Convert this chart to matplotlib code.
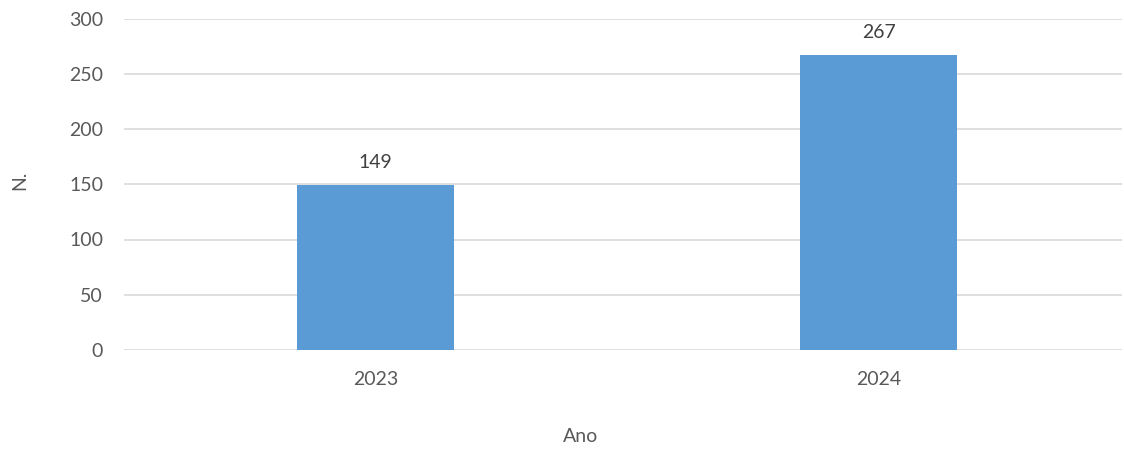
import matplotlib
matplotlib.use("Agg")
import matplotlib.pyplot as plt

# dados
anos = ["2023", "2024"]
valores = [149, 267]
y_ticks = [0, 50, 100, 150, 200, 250, 300]

plt.rcParams['font.family'] = ['Lato', 'DejaVu Sans']

fig = plt.figure(figsize=(11.24, 4.5), dpi=100)
ax = fig.add_axes([124 / 1124, 1 - 350 / 450, (1122 - 124) / 1124, (350 - 18.5) / 450])

pos = list(range(len(anos)))
bars = ax.bar(pos, valores, width=0.312, color='#5B9BD5', zorder=3)

for b, v in zip(bars, valores):
    ax.text(b.get_x() + b.get_width() / 2, v + 13, str(v),
            ha='center', va='bottom', fontsize=14, color='#404040')

ax.set_xlim(-0.5, 1.483)
ax.set_ylim(0, 300)
ax.set_yticks(y_ticks)
ax.set_xticks(pos)
ax.set_xticklabels(anos)
ax.yaxis.grid(True, color='#D9D9D9', linewidth=1.2, zorder=0)
ax.tick_params(axis='both', length=0, labelsize=14, labelcolor='#595959')
ax.tick_params(axis='y', pad=15)
ax.tick_params(axis='x', pad=15)
for s in ax.spines.values():
    s.set_visible(False)

fig.text(581 / 1124, 1 - 437 / 450, "Ano", ha='center', va='center', fontsize=14, color='#595959')
fig.text(20 / 1124, 1 - 180 / 450, "N.", ha='center', va='center', rotation=90, fontsize=14, color='#595959')

fig.savefig("out.png", dpi=100, facecolor='white')
